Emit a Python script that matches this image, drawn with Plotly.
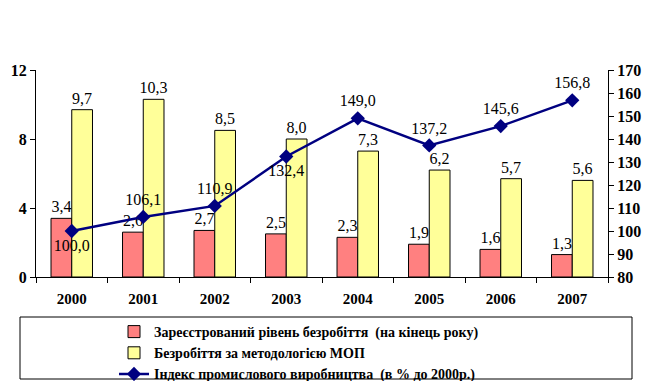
import plotly.graph_objects as go

years = ["2000", "2001", "2002", "2003", "2004", "2005", "2006", "2007"]
registered = [3.4, 2.6, 2.7, 2.5, 2.3, 1.9, 1.6, 1.3]
ilo = [9.7, 10.3, 8.5, 8.0, 7.3, 6.2, 5.7, 5.6]
industry_index = [100.0, 106.1, 110.9, 132.4, 149.0, 137.2, 145.6, 156.8]
index_label_pos = ["bottom center", "top center", "top center", "bottom center",
                   "top center", "top center", "top center", "top center"]

names = [
    "Зареєстрований рівень безробіття  (на кінець року)",
    "Безробіття за методологією МОП",
    "Індекс промислового виробництва  (в % до 2000р.)",
]


def fmt(v):
    return f"{v:.1f}".replace(".", ",")


FONT = "Times New Roman, serif"
LEGEND_FONT = "Times New Roman, DejaVu Serif, serif"

fig = go.Figure()
fig.add_trace(go.Bar(
    x=years, y=registered, name=names[0],
    marker=dict(color="#FF8080", line=dict(color="black", width=1)),
    text=[fmt(v) for v in registered], textposition="outside",
    constraintext="none",
    textfont=dict(family=FONT, size=16, color="black"), cliponaxis=False,
))
fig.add_trace(go.Bar(
    x=years, y=ilo, name=names[1],
    marker=dict(color="#FFFF99", line=dict(color="black", width=1)),
    text=[fmt(v) for v in ilo], textposition="outside",
    constraintext="none",
    textfont=dict(family=FONT, size=16, color="black"), cliponaxis=False,
))
fig.add_trace(go.Scatter(
    x=years, y=industry_index, name=names[2], yaxis="y2",
    mode="lines+markers+text",
    line=dict(color="#000080", width=2.5),
    marker=dict(symbol="diamond", size=11, color="#000080"),
    text=[fmt(v) for v in industry_index], textposition=index_label_pos,
    textfont=dict(family=FONT, size=16, color="black"), cliponaxis=False,
))

L, R, T, B = 36, 42, 70, 104
W, H = 650, 381
pw, ph = W - L - R, H - T - B


def px_x(x):
    return (x - L) / pw


def px_y(y):
    return (H - B - y) / ph


fig.update_layout(
    width=W, height=H,
    margin=dict(l=L, r=R, t=T, b=B, autoexpand=False),
    paper_bgcolor="white", plot_bgcolor="white",
    barmode="group", bargap=0.42, bargroupgap=0,
    showlegend=True,
    font=dict(family=FONT, size=14, color="black"),
    xaxis=dict(
        type="category", showline=True, linecolor="black", linewidth=1,
        ticks="outside", tickson="boundaries", ticklen=5, tickcolor="black",
        ticklabelstandoff=8,
        tickfont=dict(family=FONT, size=15, weight="bold"),
        showgrid=False, zeroline=False,
    ),
    yaxis=dict(
        range=[0, 12], dtick=4, showline=True, linecolor="black", linewidth=1,
        ticks="outside", ticklen=5, tickcolor="black",
        tickfont=dict(family=FONT, size=16, weight="bold"),
        showgrid=False, zeroline=False,
    ),
    yaxis2=dict(
        range=[80, 170], dtick=10, overlaying="y", side="right",
        showline=True, linecolor="black", linewidth=1,
        ticks="outside", ticklen=5, tickcolor="black",
        tickfont=dict(family=FONT, size=16, weight="bold"),
        showgrid=False, zeroline=False,
    ),
    legend=dict(
        x=px_x(114), y=px_y(316), xanchor="left", yanchor="top",
        bgcolor="rgba(0,0,0,0)", borderwidth=0,
        font=dict(family=LEGEND_FONT, size=14, weight="bold"),
        traceorder="normal", tracegroupgap=0,
    ),
    shapes=[dict(
        type="rect", xref="paper", yref="paper",
        x0=px_x(20), x1=px_x(632), y0=px_y(317), y1=px_y(379),
        line=dict(color="black", width=1), fillcolor="rgba(0,0,0,0)",
        layer="below",
    )],
)

fig.write_html(
    "out.html",
    config={"displayModeBar": False},
    post_script="document.body.style.margin='0';",
)
